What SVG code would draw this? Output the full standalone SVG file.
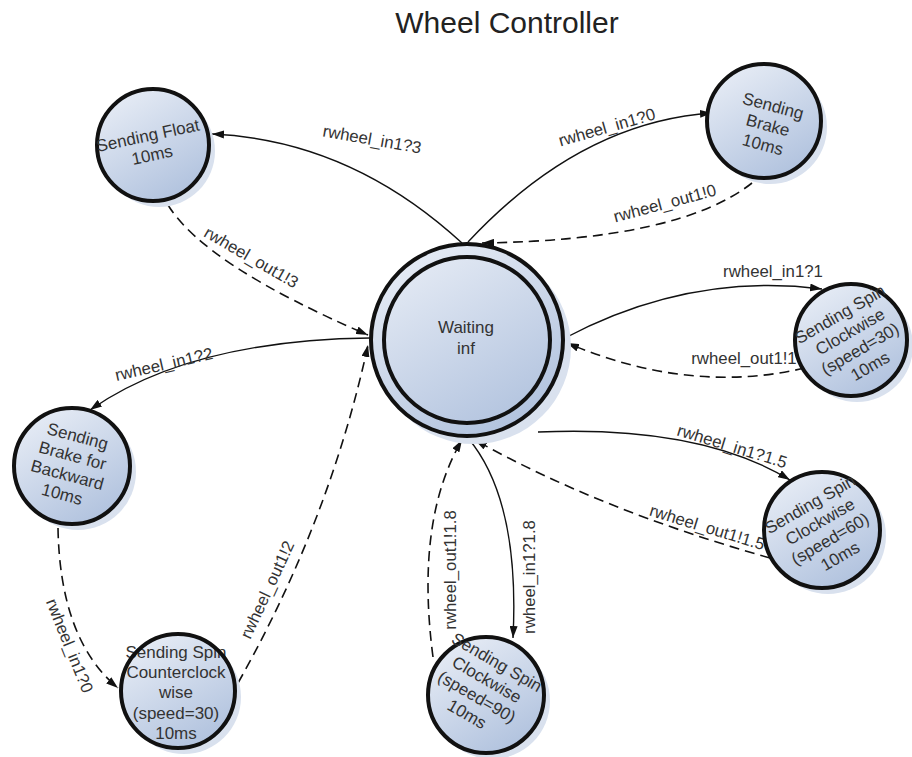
<svg xmlns="http://www.w3.org/2000/svg" width="912" height="757" viewBox="0 0 912 757">
<style>
.title{font-family:"Liberation Sans",Arial,sans-serif;font-size:30px;fill:#222;text-anchor:middle}
.nt{font-family:"Liberation Sans",Arial,sans-serif;font-size:17px;fill:#333;text-anchor:middle}
.el{font-family:"Liberation Sans",Arial,sans-serif;font-size:16.8px;fill:#333;text-anchor:middle}
.body{fill:url(#g);stroke:#111;stroke-width:4}
.shadow{fill:#d9e1ee}
.solid{fill:none;stroke:#111;stroke-width:1.4;marker-end:url(#arr)}
.dash{fill:none;stroke:#111;stroke-width:1.6;stroke-dasharray:10 6;marker-end:url(#arr)}
</style>
<defs>
<linearGradient id="g" x1="0" y1="0" x2="0.6" y2="1">
<stop offset="0" stop-color="#edf1f8"/>
<stop offset="1" stop-color="#b3c4df"/>
</linearGradient>
<marker id="arr" viewBox="0 0 12 8" refX="12" refY="4" markerWidth="12" markerHeight="8" markerUnits="userSpaceOnUse" orient="auto">
<path d="M0,0 L12,4 L0,8 z" fill="#111"/>
</marker>
</defs>
<rect width="912" height="757" fill="#fff"/>
<text class="title" x="507" y="33">Wheel Controller</text>

<g id="connectors">
<path class="solid" d="M462,243 Q350,140 212,134"/>
<path class="dash" d="M168,205 Q205,265 368,335"/>
<path class="solid" d="M468,242 Q580,122 712,113"/>
<path class="dash" d="M752,183 Q680,240 482,243"/>
<path class="solid" d="M565,338 Q690,272 822,289"/>
<path class="dash" d="M805,368 Q690,395 567,343"/>
<path class="solid" d="M538,432 Q700,425 790,480"/>
<path class="dash" d="M770,558 Q600,510 475,440"/>
<path class="solid" d="M468,438 Q520,500 513,638"/>
<path class="dash" d="M433,657 Q415,520 462,440"/>
<path class="solid" d="M370,338 Q190,340 90,410"/>
<path class="dash" d="M58,528 Q60,640 118,688"/>
<path class="dash" d="M238,683 Q330,520 368,345"/>
<text class="el" transform="translate(372,140) rotate(10)" y="5">rwheel_in1?3</text>
<text class="el" transform="translate(251,258) rotate(30)" y="5">rwheel_out1!3</text>
<text class="el" transform="translate(607,128) rotate(-16)" y="5">rwheel_in1?0</text>
<text class="el" transform="translate(665,204) rotate(-15)" y="5">rwheel_out1!0</text>
<text class="el" transform="translate(773,272)" y="5">rwheel_in1?1</text>
<text class="el" transform="translate(744,359)" y="5">rwheel_out1!1</text>
<text class="el" transform="translate(732,447) rotate(17)" y="5">rwheel_in1?1.5</text>
<text class="el" transform="translate(707,528) rotate(17)" y="5">rwheel_out1!1.5</text>
<text class="el" transform="translate(530,577) rotate(-90)" y="5">rwheel_in1?1.8</text>
<text class="el" transform="translate(451,570) rotate(-90)" y="5">rwheel_out1!1.8</text>
<text class="el" transform="translate(164,365) rotate(-13)" y="5">rwheel_in1?2</text>
<text class="el" transform="translate(69,646) rotate(68)" y="5">rwheel_in1?0</text>
<text class="el" transform="translate(268,590) rotate(-65)" y="5">rwheel_out1!2</text>
</g>

<g id="waiting">
<circle class="shadow" cx="474" cy="347" r="97"/>
<circle class="body" cx="467" cy="340" r="96"/>
<circle fill="none" stroke="#111" stroke-width="4" cx="467" cy="340" r="83"/>
<text class="nt" x="466" y="333">Waiting</text>
<text class="nt" x="466" y="354">inf</text>
</g>

<g id="sending-float">
<circle class="shadow" cx="159" cy="151" r="56"/>
<circle class="body" cx="153" cy="145" r="56"/>
<g transform="translate(150,145) rotate(-12)">
<text class="nt" y="-4">Sending Float</text>
<text class="nt" y="16">10ms</text>
</g>
</g>

<g id="sending-brake">
<circle class="shadow" cx="770" cy="127" r="57"/>
<circle class="body" cx="764" cy="121" r="57"/>
<g transform="translate(768,125) rotate(15)">
<text class="nt" y="-14">Sending</text>
<text class="nt" y="6">Brake</text>
<text class="nt" y="26">10ms</text>
</g>
</g>

<g id="spin-cw-30">
<circle class="shadow" cx="857" cy="346" r="56"/>
<circle class="body" cx="851" cy="340" r="56"/>
<g transform="translate(855,340) rotate(-30)">
<text class="nt" y="-24">Sending Spin</text>
<text class="nt" y="-4">Clockwise</text>
<text class="nt" y="16">(speed=30)</text>
<text class="nt" y="36">10ms</text>
</g>
</g>

<g id="brake-backward">
<circle class="shadow" cx="78" cy="472" r="58"/>
<circle class="body" cx="72" cy="466" r="58"/>
<g transform="translate(70,465) rotate(15)">
<text class="nt" y="-24">Sending</text>
<text class="nt" y="-4">Brake for</text>
<text class="nt" y="16">Backward</text>
<text class="nt" y="36">10ms</text>
</g>
</g>

<g id="spin-ccw-30">
<circle class="shadow" cx="184" cy="697" r="57"/>
<circle fill="url(#g)" cx="178" cy="691" r="57"/>
<text class="nt" x="176" y="658">Sending Spin</text>
<text class="nt" x="176" y="678">Counterclock</text>
<text class="nt" x="176" y="698">wise</text>
<text class="nt" x="176" y="719">(speed=30)</text>
<text class="nt" x="176" y="739">10ms</text>
<circle fill="none" stroke="#111" stroke-width="4" cx="178" cy="691" r="57"/>
</g>

<g id="spin-cw-60">
<circle class="shadow" cx="828" cy="536" r="58"/>
<circle class="body" cx="822" cy="530" r="58"/>
<g transform="translate(825,530) rotate(-30)">
<text class="nt" y="-24">Sending Spin</text>
<text class="nt" y="-4">Clockwise</text>
<text class="nt" y="16">(speed=60)</text>
<text class="nt" y="36">10ms</text>
</g>
</g>

<g id="spin-cw-90">
<circle class="shadow" cx="492" cy="701" r="58"/>
<circle class="body" cx="486" cy="695" r="58"/>
<g transform="translate(482,688) rotate(30)">
<text class="nt" y="-24">Sending Spin</text>
<text class="nt" y="-4">Clockwise</text>
<text class="nt" y="16">(speed=90)</text>
<text class="nt" y="36">10ms</text>
</g>
</g>
</svg>
